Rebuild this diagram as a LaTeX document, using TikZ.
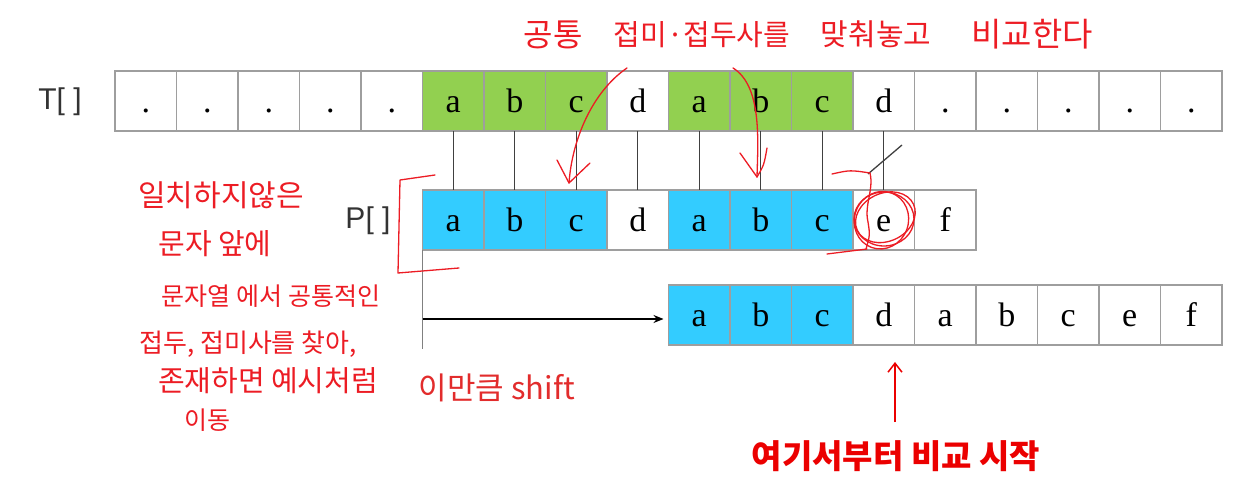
\documentclass[tikz,border=0pt]{standalone}
\usepackage{fontspec}
\setmainfont{Liberation Serif}
\newfontfamily\kr{Noto Sans CJK KR}
\newfontfamily\lsans{Liberation Sans}
\usetikzlibrary{arrows.meta}
\definecolor{cellgreen}{HTML}{92D050}
\definecolor{cellblue}{HTML}{33CCFF}
\definecolor{cellborder}{HTML}{9E9E9E}
\definecolor{connline}{HTML}{404040}
\definecolor{handred}{RGB}{236,28,36}
\definecolor{typered}{RGB}{226,44,44}
\begin{document}
\begin{tikzpicture}[x=1pt,y=-1pt,
  cell/.style={draw=cellborder, fill=white, line width=1.6pt, minimum width=61.5pt, minimum height=60pt,
    inner sep=0pt, outer sep=0pt, font=\fontsize{34}{38}\selectfont, text height=23pt, text depth=0pt},
  gcell/.style={cell, fill=cellgreen},
  bcell/.style={cell, fill=cellblue},
  conn/.style={draw=connline, line width=1.3pt},
  rowlabel/.style={font=\lsans\fontsize{30}{36}\selectfont, text=black!80, inner sep=0pt},
  hand/.style={draw=handred, line width=1.3pt, line cap=round, line join=round},
  handtxt/.style={text=handred, inner sep=0pt},
  typed/.style={text=typered, inner sep=0pt}
]
\useasboundingbox (0,0) rectangle (1253,502);

% T row
\foreach \i/\t/\s in {0/./cell,1/./cell,2/./cell,3/./cell,4/./cell,5/a/gcell,6/b/gcell,7/c/gcell,8/d/cell,
  9/a/gcell,10/b/gcell,11/c/gcell,12/d/cell,13/./cell,14/./cell,15/./cell,16/./cell,17/./cell}
  \node[\s] (T\i) at ({115+61.5*(\i+0.5)},101) {\t};
% P row
\foreach \i/\t/\s in {0/a/bcell,1/b/bcell,2/c/bcell,3/d/cell,4/a/bcell,5/b/bcell,6/c/bcell,7/e/cell,8/f/cell}
  \node[\s] (P\i) at ({422.5+61.5*(\i+0.5)},220) {\t};
% shifted row
\foreach \i/\t/\s in {0/a/bcell,1/b/bcell,2/c/bcell,3/d/cell,4/a/cell,5/b/cell,6/c/cell,7/e/cell,8/f/cell}
  \node[\s] (R\i) at ({668.5+61.5*(\i+0.5)},315) {\t};

\node[rowlabel] (Tlab) at (60,102) {T[ ]};
\node[rowlabel] (Plab) at (368,221) {P[ ]};

% comparison connectors
\foreach \i/\j in {5/0,6/1,7/2,8/3,9/4,10/5,11/6,12/7}
  \draw[conn] (T\i.south) -- (P\j.north);
\coordinate (sl1) at (868,174);
\coordinate (sl2) at (902,145);
\draw[conn] (sl1) -- (sl2);

% shift line and arrow
\coordinate (sbot) at (422.5,349);
\draw[draw=gray, line width=1.6pt] (P0.south west) -- (sbot);
\coordinate (sa) at (422.5,319);
\draw[line width=1.3pt, -{Stealth[length=10pt,width=8pt]}, shorten >=5pt] (sa) -- (sa -| R0.west);

\node[typed, font=\kr\fontsize{31}{34}\selectfont] (shiftlab) at (497,388) {이만큼 shift};

% start-compare arrow
\node[typed, text=red!92!black, font=\kr\bfseries\fontsize{33}{36}\selectfont] (startlab) at (896,456) {여기서부터 비교 시작};
\coordinate (ua) at (895,422);
\coordinate (ub) at (895,362);
\draw[draw=red!92!black, line width=1.5pt, -{Straight Barb[length=9pt,width=14pt]}] (ua) -- (ub);

% handwritten title
\node[handtxt, font=\kr\fontsize{32}{34}\selectfont] (h1) at (553,35) {공통};
\node[handtxt, font=\kr\fontsize{29}{34}\selectfont] (h2) at (702,35) {접미·접두사를};
\node[handtxt, font=\kr\fontsize{30}{34}\selectfont] (h3) at (876,34) {맞춰놓고};
\node[handtxt, font=\kr\fontsize{33}{34}\selectfont] (h4) at (1032,34) {비교한다};

% handwritten side note
\node[handtxt, font=\kr\fontsize{30}{34}\selectfont] (n1) at (221,195) {일치하지않은};
\node[handtxt, font=\kr\fontsize{29}{34}\selectfont] (n2) at (215,244) {문자 앞에};
\node[handtxt, font=\kr\fontsize{25}{34}\selectfont] (n3) at (271,296) {문자열 에서 공통적인};
\node[handtxt, font=\kr\fontsize{26}{34}\selectfont] (n4) at (248,344) {접두, 접미사를 찾아,};
\node[handtxt, font=\kr\fontsize{29}{34}\selectfont] (n5) at (268,381) {존재하면 예시처럼};
\node[handtxt, font=\kr\fontsize{25}{34}\selectfont] (n6) at (207,420) {이동};

% handwritten strokes
\draw[hand] (627,68) .. controls (592,92) and (572,140) .. (569,183);
\draw[hand] (557,160) -- (569,183) -- (590,163);
\draw[hand] (733,68) .. controls (762,86) and (758,140) .. (757,177);
\draw[hand] (740,153) -- (757,177) .. controls (764,165) .. (767,148);
\draw[hand] (435,175) -- (400,180) -- (398,273) -- (459,268);
\draw[hand] (832,174) .. controls (850,170) .. (870,173) .. controls (874,190) and (864,205) .. (868,222) .. controls (870,235) .. (866,249);
\draw[hand] (827,254) -- (867,249);
\draw[hand] (884,219) ellipse [x radius=30pt, y radius=27pt];
\draw[hand, rotate around={25:(884,219)}] (886,218) ellipse [x radius=31pt, y radius=24pt];
\draw[hand, rotate around={-20:(884,219)}] (882,221) ellipse [x radius=27pt, y radius=29pt];
\end{tikzpicture}
\end{document}
